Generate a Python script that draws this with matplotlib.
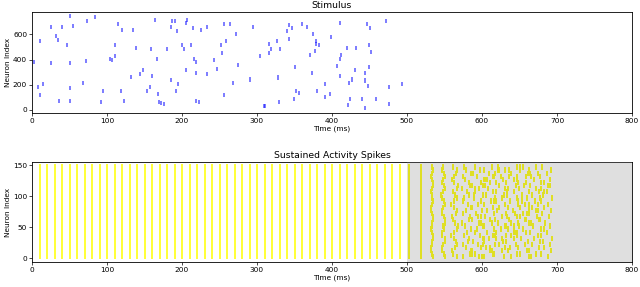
import matplotlib
matplotlib.use("Agg")
import matplotlib.pyplot as plt
import numpy as np

# ---- Stimulus spikes (time ms, neuron index) ----
stim_times = [2.7, 8, 10, 11, 14, 25, 25, 32, 34, 36, 40, 47, 50, 51, 51, 51, 55, 68, 72, 73,
              84, 92, 94, 104, 107, 110, 111, 114, 118, 120, 122, 132, 135, 139, 144, 148, 153,
              157, 158, 160, 164, 166, 168, 169, 172, 176, 180, 185, 185, 186, 190, 192, 193,
              194, 200, 202, 205, 205, 206, 212, 214, 216, 218, 219, 218, 222, 225, 233, 233,
              243, 246, 252, 253, 256, 256, 259, 264, 268, 272, 274, 290, 294, 309, 310, 304,
              316, 316, 319, 327, 328, 329, 331, 340, 342, 343, 347, 349, 350, 352, 356, 360,
              366, 371, 373, 375, 377, 378, 379, 380, 382,
              390, 390, 397, 399, 407, 410, 411, 412, 410, 420, 422, 421, 424, 426, 430, 432,
              440, 444, 444, 444, 447, 448, 449, 449, 451, 452, 458, 472, 476, 476, 493]
stim_neurons = [382, 179, 547, 118, 203, 660, 374, 584, 553, 74, 660, 518, 745, 176, 371, 74, 663, 218, 387, 703,
                737, 66, 150, 408, 395, 516, 426, 684, 150, 632, 71, 263, 634, 492, 287, 321, 147,
                179, 482, 271, 716, 405, 126, 66, 58, 45, 487, 239, 658, 705, 703, 150, 626,
                208, 518, 487, 689, 321, 711, 518, 650, 408, 297, 382, 71, 66, 632, 660, 289,
                400, 329, 518, 455, 684, 121, 547, 684, 211, 605, 355, 242, 658, 34, 32, 426,
                521, 455, 487, 547, 258, 66, 487, 624, 566, 676, 653, 89, 345, 153, 132, 679,
                658, 434, 297, 605, 466, 524, 547, 153, 518,
                205, 105, 129, 576, 350, 689, 403, 434, 268, 492, 216, 39, 89, 242, 321, 492,
                89, 295, 234, 13, 684, 187, 518, 345, 653, 463, 89, 708, 179, 45, 203]

# ---- Sustained activity ----
n_neurons = 152
sync_times = [10, 20, 30, 40, 50, 60, 70, 80, 90, 100, 110, 120, 130, 140, 150, 160, 170,
              180, 190, 200, 210, 220, 230, 240, 250, 260, 270, 280, 290, 300, 310, 320,
              330, 340, 350, 360, 370, 380, 390, 400, 410, 420, 430, 440, 450, 460, 470,
              480, 490]
volley_times = [503, 518, 533, 548, 563, 579, 594, 609, 624, 640, 655, 670, 685]
group_size = 5
volley_offsets = [
    [0,0,0,0,0,0,0,0,0,0,0,0,0,0,0,0,0,0,0,0,0,0,0,0,0,0,0,0,0,0],
    [0,0,0,0,0,0,0,0,0,0,0,0,0.5,0,0,0,0,0,0,0,0,0,0,0,0,0,0,0,0,0],
    [1,0,-1,-1,0,0,1,1,0,-1,0,0,1,1,0,-1,-1,0,1,0,0,-1,0,1,1,0,-1,0,1,0],
    [2,1,-1,-2,0,3,2,-1,-2,1,0,2,3,1,-2,-1,0,2,1,-1,-3,0,2,1,-2,0,3,1,-1,0],
    [3,-2,-3,1,4,2,-1,-4,0,3,5,1,-2,-3,2,4,0,-4,-1,3,1,-2,4,5,0,-3,-1,2,4,-2],
    [-4,5,6,-1,-5,2,4,-3,1,6,-2,-6,3,5,-4,0,6,2,-5,-3,4,1,-6,5,3,-2,-5,6,0,-3],
    [6,-3,-7,4,1,-6,7,3,-4,-1,8,2,-7,5,-2,6,-8,1,4,-5,7,-3,2,-7,5,8,-1,-6,3,-4],
    [-7,5,2,-4,8,-6,0,6,-3,7,-8,4,1,-5,7,-2,5,-7,3,8,-4,6,-1,-8,2,-5,7,0,-6,4],
    [5,-8,3,7,-2,4,-6,8,-5,1,6,-3,-7,2,8,-4,-1,6,-8,3,5,-6,7,-2,-5,4,1,-7,6,-3],
    [-2,7,-6,-3,5,-8,3,-1,7,-5,2,8,-4,-7,4,1,-6,8,-3,6,-7,2,-5,5,-8,3,6,-2,-4,7],
    [8,-4,5,-7,2,6,-3,-8,4,0,-6,7,3,-5,-1,8,-4,2,-7,5,-2,7,-6,1,4,-8,3,6,-5,-1],
    [-5,2,-8,6,-3,7,-1,4,-6,8,-2,-5,6,3,-7,5,-3,-8,1,7,-4,6,2,-6,8,-1,-5,4,-8,2],
    [3,-6,7,-2,5,-4,8,-7,2,-3,6,-1,-8,4,-5,7,-2,3,-6,8,-4,1,-7,5,-3,6,-8,2,7,-5],
]
# extra scattered spikes in the late irregular phase (group index, time ms)
extra_groups = [1, 4, 7, 10, 13, 16, 19, 22, 25, 28, 2, 5, 8, 11, 14, 17, 20, 23, 26, 29,
                0, 3, 6, 9, 12, 15, 18, 21, 24, 27, 1, 6, 11, 16, 21, 26, 3, 8, 13, 18, 23, 28]
extra_times = [586, 601, 617, 632, 647, 662, 677, 591, 606, 622, 613, 628, 643, 598, 660, 675, 589, 604, 636, 651,
               596, 611, 626, 642, 657, 672, 618, 633, 648, 664, 679, 603, 638, 667, 683, 615, 630, 645,
               594, 653, 688, 621]

FS_T = 6.7
FS = 5.3
EXT = 1.8  # extra half-height of jittered dashes (neuron units)

fig = plt.figure(figsize=(6.4, 2.87), dpi=100)
ax1 = fig.add_axes([0.05, 1 - 113/287, 0.9375, (113 - 12)/287])
ax2 = fig.add_axes([0.05, 1 - 262/287, 0.9375, (262 - 162)/287])

# top panel
ax1.vlines(stim_times, np.array(stim_neurons) - 16, np.array(stim_neurons) + 16,
           color='blue', linewidth=1.1, alpha=0.65)
ax1.set_xlim(0, 800)
ax1.set_ylim(-24, 778)
ax1.set_yticks([0, 200, 400, 600])
ax1.set_title("Stimulus", fontsize=FS_T, pad=3)
ax1.set_xlabel("Time (ms)", fontsize=FS, labelpad=1)
ax1.set_ylabel("Neuron Index", fontsize=FS, labelpad=1)

# bottom panel
ax2.vlines(sync_times, -1.5, n_neurons - 0.5 + 1, color='yellow', linewidth=1.1)
for k, (vt, offs) in enumerate(zip(volley_times, volley_offsets)):
    ext = 0 if k < 2 else EXT
    for g, off in enumerate(offs):
        lo = g * group_size
        hi = lo + group_size - 1
        if g == len(offs) - 1:
            hi = n_neurons - 1
        ax2.vlines(vt + off, max(lo - 0.5 - ext, -1.5), min(hi + 0.5 + ext, n_neurons + 0.5),
                   color='yellow', linewidth=1.4)
for g, t in zip(extra_groups, extra_times):
    lo = g * group_size
    ax2.vlines(t, max(lo - 0.5 - EXT, -1.5), min(lo + group_size - 0.5 + EXT, n_neurons + 0.5),
               color='yellow', linewidth=1.4)
ax2.axvspan(500, 800, color='gray', alpha=0.25, linewidth=0, zorder=3)
ax2.set_xlim(0, 800)
ax2.set_ylim(-6, 155)
ax2.set_yticks([0, 50, 100, 150])
ax2.set_title("Sustained Activity Spikes", fontsize=FS_T, pad=3)
ax2.set_xlabel("Time (ms)", fontsize=FS, labelpad=1)
ax2.set_ylabel("Neuron Index", fontsize=FS, labelpad=1)

for ax in (ax1, ax2):
    ax.set_xticks([0, 100, 200, 300, 400, 500, 600, 700, 800])
    ax.tick_params(labelsize=FS, length=2, width=0.5, pad=1.5)
    for s in ax.spines.values():
        s.set_linewidth(0.6)

fig.savefig("out.png", dpi=100)
